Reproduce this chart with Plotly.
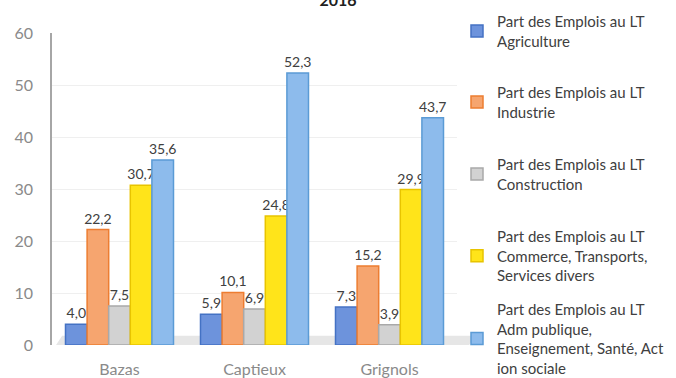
import plotly.graph_objects as go

# Communes compared
communes = ["Bazas", "Captieux", "Grignols"]

# Share of jobs (%) by sector, one list per sector
agriculture = [4.0, 5.9, 7.3]
industrie = [22.2, 10.1, 15.2]
construction = [7.5, 6.9, 3.9]
commerce = [30.7, 24.8, 29.9]
adm_publique = [35.6, 52.3, 43.7]

series_names = [
    "Part des Emplois au LT<br>Agriculture",
    "Part des Emplois au LT<br>Industrie",
    "Part des Emplois au LT<br>Construction",
    "Part des Emplois au LT<br>Commerce, Transports,<br>Services divers",
    "Part des Emplois au LT<br>Adm publique,<br>Enseignement, Santé, Act<br>ion sociale",
]
series_values = [agriculture, industrie, construction, commerce, adm_publique]

fills = ["#6d93dc", "#f6a56f", "#d2d2d2", "#ffe41a", "#8dbbec"]
edges = ["#4472c4", "#ed7d31", "#a9a9a9", "#e8c400", "#5b9bd5"]

FONT = "Lato"
W, H = 676, 378

fig = go.Figure()

# One legend per series so every entry gets the same vertical slot
legend_tops = [5, 76, 148, 220, 293]
for i, (name, vals) in enumerate(zip(series_names, series_values)):
    lg = "legend" if i == 0 else f"legend{i + 1}"
    fig.add_trace(go.Bar(
        x=communes,
        y=vals,
        name=name,
        legend=lg,
        marker=dict(color=fills[i], line=dict(color=edges[i], width=1.5)),
        text=vals,
        texttemplate="%{y:.1f}",
        textposition="outside",
        constraintext="none",
        textfont=dict(family=FONT, size=14, color="#404040"),
        cliponaxis=False,
        showlegend=True,
    ))
    fig.update_layout({
        lg: dict(
            xref="container", yref="container",
            x=457 / W, y=1 - legend_tops[i] / H,
            xanchor="left", yanchor="top",
            bgcolor="rgba(0,0,0,0)",
            font=dict(family=FONT, size=15, color="#404040"),
            itemwidth=30,
            tracegroupgap=0,
        )
    })

# Light floor under the bars
fig.add_shape(type="path", xref="paper", yref="paper",
              path="M 0.01,0 L 1.03,0 L 1.045,0.03 L 0.025,0.03 Z",
              fillcolor="#e6e6e6", line=dict(width=0), layer="below")

fig.update_layout(
    width=W, height=H,
    margin=dict(l=52, r=W - 457, t=33, b=H - 345, autoexpand=False),
    paper_bgcolor="white",
    plot_bgcolor="white",
    separators=", ",
    barmode="group",
    bargap=0.2,
    bargroupgap=0.0,
    title=dict(
        text="<b>2016</b>",
        x=0.5, xref="container", xanchor="center",
        y=1.0, yref="container", yanchor="middle",
        font=dict(family=FONT, size=16, color="#202020"),
    ),
    xaxis=dict(
        range=[-0.5, 2.5],
        automargin=False,
        showgrid=False,
        showline=False,
        ticks="",
        tickfont=dict(family=FONT, size=16, color="#8a8a8a"),
        ticklabelstandoff=13,
    ),
    yaxis=dict(
        range=[0, 60],
        automargin=False,
        tickvals=[0, 10, 20, 30, 40, 50, 60],
        showgrid=True,
        gridcolor="#efefef",
        gridwidth=1,
        zeroline=False,
        showline=True,
        linecolor="#a6a6a6",
        linewidth=1.5,
        ticks="",
        tickfont=dict(family=FONT, size=16, color="#8a8a8a"),
        ticklabelstandoff=14,
    ),
    showlegend=True,
)

fig.write_html("out.html")
